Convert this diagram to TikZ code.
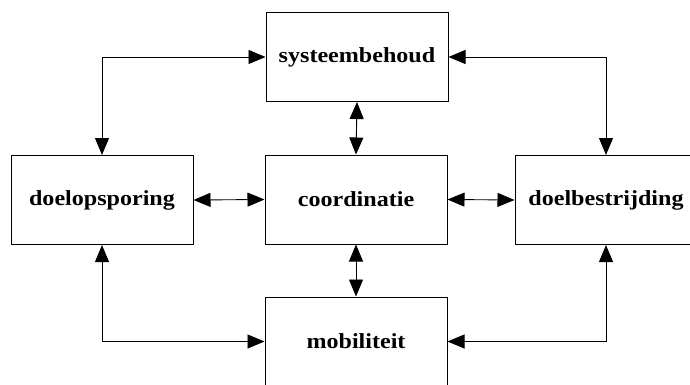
\documentclass[tikz,border=0pt]{standalone}
\usepackage{fontspec}
\setmainfont[FakeStretch=1.12]{Liberation Serif}
\usetikzlibrary{arrows.meta}

\begin{document}
\begin{tikzpicture}[
        x=1pt, y=-1pt,
        taakbox/.style={
            draw=black,
            line width=1pt,
            rectangle,
            minimum width=182pt, % Adjust box size here
            minimum height=89pt,
            inner sep=0pt,
            font=\fontsize{21.5}{26}\selectfont\bfseries
        },
        verbinding/.style={
            line width=0.9pt,
            {Triangle[length=17pt,width=14pt]}-{Triangle[length=17pt,width=14pt]}
        }
    ]

% The page: the right and lower boxes run past its edge
    \clip (0,0) rectangle (690,385);

% Boxes
    \node[taakbox] (systeem) at (357,57) {systeembehoud};
    \node[taakbox] (opsporing) at (102,200) {doelopsporing};
    \node[taakbox] (coord) at (356,199.5) {coordinatie};
    \node[taakbox] (bestrijding) at (606,200) {doelbestrijding};
    \node[taakbox] (mobiel) at (356,341.5) {mobiliteit};

% Middle column and middle row
    \draw[verbinding] (systeem.south) -- (coord.north);
    \draw[verbinding] (coord.south) -- (mobiel.north);
    \draw[verbinding] (opsporing.east) -- (coord.west);
    \draw[verbinding] (coord.east) -- (bestrijding.west);

% Outer loop round the corners
    \draw[verbinding] (opsporing.north) |- (systeem.west);
    \draw[verbinding] (bestrijding.north) |- (systeem.east);
    \draw[verbinding] (opsporing.south) |- (mobiel.west);
    \draw[verbinding] (bestrijding.south) |- (mobiel.east);

\end{tikzpicture}
\end{document}
